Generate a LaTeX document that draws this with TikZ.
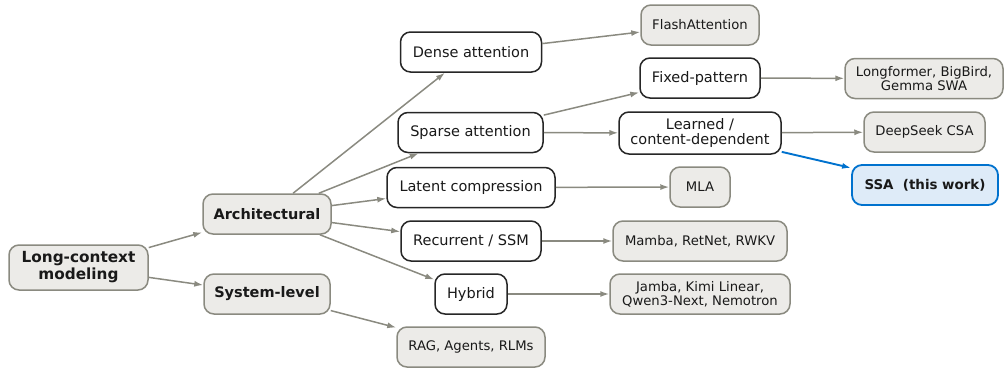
\documentclass[tikz,border=0pt]{standalone}
\usepackage{fontspec}
\setmainfont{DejaVu Sans}
\usetikzlibrary{arrows.meta}
\definecolor{graybg}{RGB}{236,235,232}
\definecolor{grayline}{RGB}{138,138,128}
\definecolor{bluec}{RGB}{0,114,206}
\definecolor{bluefill}{RGB}{222,235,248}
\definecolor{txt}{RGB}{25,25,25}
\begin{document}
\begin{tikzpicture}[x=1pt,y=-1pt,
  base/.style={rounded corners=10pt, line width=1.5pt, inner sep=0pt, align=center,
    font=\fontsize{14.5}{14.5}\selectfont, minimum height=40pt, text=txt},
  cat/.style={base, draw=grayline, fill=graybg, font=\bfseries\fontsize{14.5}{17}\selectfont},
  mech/.style={base, draw=black!85, fill=white},
  ex/.style={base, draw=grayline, fill=graybg, font=\fontsize{13.2}{14.3}\selectfont},
  ours/.style={base, draw=bluec, fill=bluefill, line width=1.8pt, font=\bfseries\fontsize{13.4}{14.3}\selectfont},
  edge/.style={draw=grayline, line width=1.5pt, -{Latex[length=9pt,width=6pt]}},
  bedge/.style={draw=bluec, line width=1.9pt, -{Latex[length=9pt,width=6pt]}},
]
\useasboundingbox (0,0) rectangle (1005,370);
% level 0/1
\node[cat, minimum width=139pt, minimum height=45pt, font=\bfseries\fontsize{15.3}{17}\selectfont] (lc) at (78.5,267.5) {Long-context\\modeling};
\node[cat, minimum width=128pt] (arch) at (267,214) {Architectural};
\node[cat, minimum width=126pt] (sys) at (267,294) {System-level};
% level 2
\node[mech, minimum width=141pt] (dense) at (471,52) {Dense attention};
\node[mech, minimum width=145pt] (sparse) at (470.5,132.5) {Sparse attention};
\node[mech, minimum width=168pt] (latent) at (471,187.5) {Latent compression};
\node[mech, minimum width=140pt] (rec) at (471,241) {Recurrent / SSM};
\node[mech, minimum width=72pt] (hyb) at (471,294) {Hybrid};
\node[ex, minimum width=148pt] (rag) at (471,347) {RAG, Agents, RLMs};
% level 3
\node[ex, minimum width=118pt] (flash) at (700,25) {FlashAttention};
\node[mech, minimum width=120pt] (fixed) at (700,78) {Fixed-pattern};
\node[mech, minimum width=162pt, minimum height=42pt] (learn) at (700,133) {Learned /\\content-dependent};
\node[ex, minimum width=60pt] (mla) at (700,187) {MLA};
\node[ex, minimum width=174pt] (mamba) at (700,241) {Mamba, RetNet, RWKV};
\node[ex, minimum width=180pt] (jamba) at (700,294) {Jamba, Kimi Linear,\\Qwen3-Next, Nemotron};
% level 4
\node[ex, minimum width=158pt] (longf) at (924,78.5) {Longformer, BigBird,\\Gemma SWA};
\node[ex, minimum width=121pt] (dscsa) at (924.5,132) {DeepSeek CSA};
\node[ours, minimum width=146pt] (ssa) at (925,185) {SSA\ \ (this work)};
% edges
\draw[edge] (lc) -- (arch);
\draw[edge] (lc) -- (sys);
\draw[edge] (arch) -- (dense);
\draw[edge] (arch) -- (sparse);
\draw[edge] (arch) -- (latent);
\draw[edge] (arch) -- (rec);
\draw[edge] (arch) -- (hyb);
\draw[edge] (sys) -- (rag);
\draw[edge] (dense) -- (flash);
\draw[edge] (sparse) -- (fixed);
\draw[edge] (sparse) -- (learn);
\draw[edge] (latent) -- (mla);
\draw[edge] (rec) -- (mamba);
\draw[edge] (hyb) -- (jamba);
\draw[edge] (fixed) -- (longf);
\draw[edge] (learn) -- (dscsa);
\draw[bedge] (learn) -- (ssa);
\end{tikzpicture}
\end{document}
